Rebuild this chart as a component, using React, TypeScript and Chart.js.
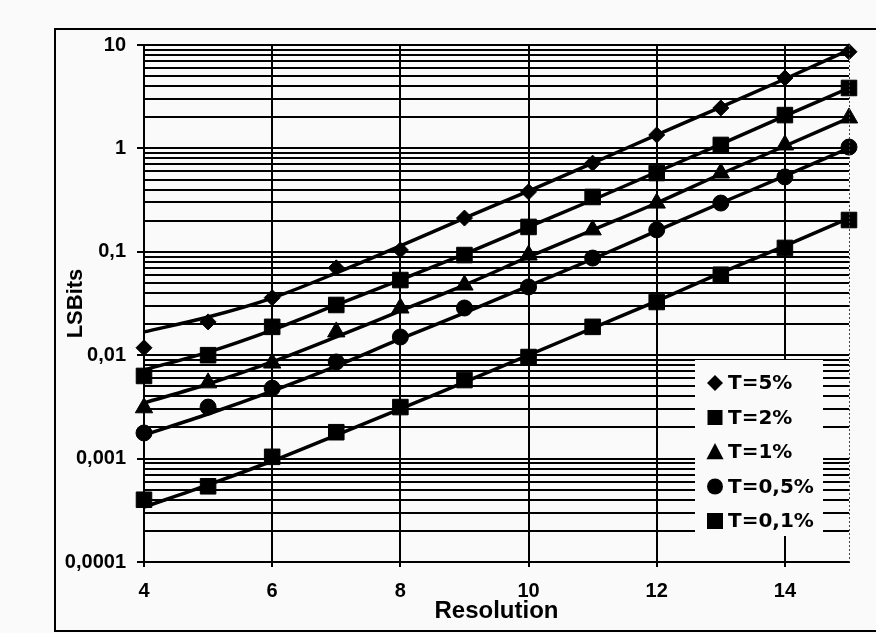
import React, { useEffect, useRef } from 'react';
import { Chart, registerables } from 'chart.js';

Chart.register(...registerables);

// ---------- data ----------
const resolution = [4, 5, 6, 7, 8, 9, 10, 11, 12, 13, 14, 15];
const seriesLabels = ['T=5%', 'T=2%', 'T=1%', 'T=0,5%', 'T=0,1%'];
const markerStyles = ['rectRot', 'rect', 'triangle', 'circle', 'rect'];
const markerRadii = [8, 11, 10, 8, 11];

const t5 = [0.0118, 0.021, 0.036, 0.07, 0.104, 0.212, 0.38, 0.72, 1.35, 2.46, 4.8, 8.6];
const t2 = [0.0063, 0.01, 0.0188, 0.0306, 0.0533, 0.093, 0.174, 0.339, 0.578, 1.08, 2.1, 3.84];
const t1 = [0.0031, 0.0054, 0.0084, 0.0168, 0.0286, 0.0477, 0.093, 0.163, 0.296, 0.578, 1.08, 1.97];
const t05 = [0.00177, 0.00315, 0.0048, 0.0086, 0.015, 0.0286, 0.0457, 0.087, 0.163, 0.296, 0.53, 1.03];
const t01 = [0.0004, 0.00054, 0.00104, 0.0018, 0.00315, 0.00575, 0.0096, 0.0188, 0.0327, 0.06, 0.109, 0.203];

// trend curves at each resolution
const trend5 = [0.0168, 0.0234, 0.0357, 0.0624, 0.114, 0.212, 0.387, 0.722, 1.35, 2.51, 4.69, 8.95];
const trend2 = [0.0072, 0.0107, 0.0175, 0.0306, 0.0534, 0.0952, 0.174, 0.317, 0.591, 1.1, 2.06, 3.84];
const trend1 = [0.00345, 0.00527, 0.0086, 0.015, 0.0268, 0.0477, 0.0891, 0.1625, 0.2965, 0.5655, 1.055, 1.968];
const trend05 = [0.00169, 0.0027, 0.0045, 0.00786, 0.01435, 0.0256, 0.0467, 0.0852, 0.159, 0.2965, 0.541, 1.009];
const trend01 = [0.00034, 0.000556, 0.000948, 0.00169, 0.00302, 0.0055, 0.01, 0.0183, 0.0334, 0.0624, 0.114, 0.212];

const seriesValues = [t5, t2, t1, t05, t01];
const trendValues = [trend5, trend2, trend1, trend05, trend01];

const xTickValues = [4, 6, 8, 10, 12, 14];
const yMajorValues = [0.0001, 0.001, 0.01, 0.1, 1, 10];
const yMajorLabels = ['0,0001', '0,001', '0,01', '0,1', '1', '10'];
const yMinorMultipliers = [1, 2, 3, 4, 5, 6, 7, 8, 9];

const BG = '#fafafa';
const AXIS_FONT = "'Liberation Sans', Arial, sans-serif";
const LEGEND_FONT = "'DejaVu Sans', sans-serif";

function majorIndex(v: number): number {
  for (let i = 0; i < yMajorValues.length; i++) {
    if (Math.abs(v - yMajorValues[i]) / yMajorValues[i] < 1e-6) return i;
  }
  return -1;
}

function yGridValues(): number[] {
  const out: number[] = [];
  for (let i = 0; i < yMajorValues.length - 1; i++) {
    for (const m of yMinorMultipliers) out.push(m * yMajorValues[i]);
  }
  out.push(yMajorValues[yMajorValues.length - 1]);
  return out;
}

function drawMarker(ctx: CanvasRenderingContext2D, style: string, x: number, y: number, r: number) {
  ctx.beginPath();
  if (style === 'rectRot') {
    ctx.moveTo(x, y - r);
    ctx.lineTo(x + r, y);
    ctx.lineTo(x, y + r);
    ctx.lineTo(x - r, y);
    ctx.closePath();
  } else if (style === 'rect') {
    ctx.rect(x - r, y - r, 2 * r, 2 * r);
  } else if (style === 'triangle') {
    ctx.moveTo(x, y - r);
    ctx.lineTo(x + r * 0.95, y + r * 0.8);
    ctx.lineTo(x - r * 0.95, y + r * 0.8);
    ctx.closePath();
  } else {
    ctx.arc(x, y, r, 0, Math.PI * 2);
  }
  ctx.fill();
}

const legendMarkerRadii = [8, 7.5, 9, 8, 8];

const framePlugin = {
  id: 'frame',
  beforeDraw(chart: any) {
    const ctx = chart.ctx;
    ctx.save();
    ctx.fillStyle = BG;
    ctx.fillRect(0, 0, chart.width, chart.height);
    ctx.restore();
  },
  afterDraw(chart: any) {
    const ctx: CanvasRenderingContext2D = chart.ctx;
    const area = chart.chartArea;
    ctx.save();
    // outer frame
    ctx.strokeStyle = '#000';
    ctx.lineWidth = 2;
    ctx.beginPath();
    ctx.moveTo(chart.width + 5, 29);
    ctx.lineTo(55, 29);
    ctx.lineTo(55, 631);
    ctx.lineTo(chart.width + 5, 631);
    ctx.stroke();
    // dotted right edge of plot
    ctx.lineWidth = 1;
    ctx.strokeStyle = '#444';
    ctx.setLineDash([2, 2]);
    ctx.beginPath();
    ctx.moveTo(area.right + 0.5, area.top);
    ctx.lineTo(area.right + 0.5, area.bottom);
    ctx.stroke();
    ctx.setLineDash([]);
    // legend
    const boxLeft = area.right - 154;
    const boxTop = area.bottom - 202;
    ctx.fillStyle = BG;
    ctx.fillRect(boxLeft, boxTop, 128, 176);
    ctx.fillStyle = '#000';
    ctx.font = `bold 20px ${LEGEND_FONT}`;
    ctx.textBaseline = 'middle';
    ctx.textAlign = 'left';
    let row = 0;
    chart.data.datasets.forEach((ds: any) => {
      if (!ds.isSeries) return;
      const y = boxTop + 23 + row * 34.5;
      drawMarker(ctx, ds.pointStyle, boxLeft + 20, y, legendMarkerRadii[row]);
      ctx.fillText(ds.label, boxLeft + 33, y + 1);
      row++;
    });
    ctx.restore();
  },
};

export default function App() {
  const canvasRef = useRef<HTMLCanvasElement | null>(null);

  useEffect(() => {
    if (!canvasRef.current) return;
    const datasets: any[] = [];
    trendValues.forEach((vals) => {
      datasets.push({
        type: 'line',
        label: '',
        isSeries: false,
        data: resolution.map((x, i) => ({ x, y: vals[i] })),
        borderColor: '#000',
        borderWidth: 3.5,
        pointRadius: 0,
        showLine: true,
        cubicInterpolationMode: 'monotone',
        fill: false,
        clip: false,
      });
    });
    seriesValues.forEach((vals, s) => {
      datasets.push({
        type: 'scatter',
        label: seriesLabels[s],
        isSeries: true,
        data: resolution.map((x, i) => ({ x, y: vals[i] })),
        pointStyle: markerStyles[s],
        pointRadius: markerRadii[s],
        pointBackgroundColor: '#000',
        pointBorderColor: '#000',
        pointBorderWidth: 1,
        showLine: false,
        clip: false,
      });
    });

    const chart = new Chart(canvasRef.current, {
      type: 'scatter',
      data: { datasets },
      plugins: [framePlugin],
      options: {
        animation: false,
        responsive: false,
        layout: { padding: { left: 55, top: 45, right: 27, bottom: 0 } },
        plugins: { legend: { display: false }, tooltip: { enabled: false } },
        scales: {
          x: {
            type: 'linear',
            min: 4,
            max: 15,
            afterBuildTicks: (scale: any) => {
              scale.ticks = xTickValues.map((v) => ({ value: v }));
            },
            afterFit: (scale: any) => {
              scale.height = 71;
            },
            ticks: {
              autoSkip: false,
              maxRotation: 0,
              padding: 12,
              color: '#000',
              font: { family: AXIS_FONT, size: 20, weight: 'bold' },
            },
            grid: {
              color: '#000',
              lineWidth: 2,
              tickLength: 5,
              tickColor: '#000',
              tickWidth: 2,
            },
            border: { display: true, color: '#000', width: 2 },
            title: {
              display: true,
              text: 'Resolution',
              color: '#000',
              padding: { top: 0, bottom: 7 },
              font: { family: AXIS_FONT, size: 24, weight: 'bold' },
            },
          },
          y: {
            type: 'logarithmic',
            min: 0.0001,
            max: 10,
            afterBuildTicks: (scale: any) => {
              scale.ticks = yGridValues().map((v) => ({ value: v }));
            },
            afterFit: (scale: any) => {
              scale.width = 89;
            },
            ticks: {
              autoSkip: false,
              padding: 11,
              color: '#000',
              font: { family: AXIS_FONT, size: 20, weight: 'bold' },
              callback: (value: any) => {
                const i = majorIndex(Number(value));
                return i >= 0 ? yMajorLabels[i] : '';
              },
            },
            grid: {
              color: '#000',
              lineWidth: 2,
              tickLength: 7,
              tickWidth: 2,
              tickColor: (ctx: any) =>
                ctx.tick && majorIndex(ctx.tick.value) >= 0 ? '#000' : 'rgba(0,0,0,0)',
            },
            border: { display: true, color: '#000', width: 2 },
            title: {
              display: true,
              text: 'LSBits',
              color: '#000',
              padding: { top: 8, bottom: 0 },
              font: { family: AXIS_FONT, size: 22, weight: 'bold' },
            },
          },
        },
      } as any,
    });
    return () => chart.destroy();
  }, []);

  return (
    <div style={{ position: 'fixed', left: 0, top: 0, width: 876, height: 633, background: BG }}>
      <canvas ref={canvasRef} width={876} height={633} style={{ display: 'block', width: 876, height: 633 }} />
    </div>
  );
}
